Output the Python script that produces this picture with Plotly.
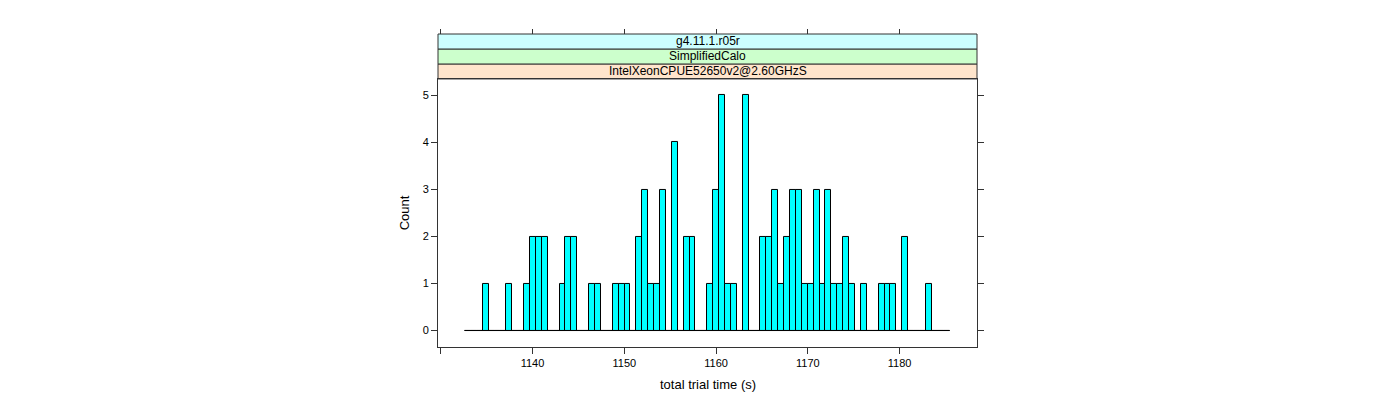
import numpy as np
import plotly.graph_objects as go

# ---- data ----
bin_start = 1132.64   # left edge of first bin (s)
bin_width = 0.6439    # bin width (s)
counts = [0, 0, 0, 1, 0, 0, 0, 1, 0, 0,
          1, 2, 2, 2, 0, 0, 1, 2, 2, 0,
          0, 1, 1, 0, 0, 1, 1, 1, 0, 2,
          3, 1, 1, 3, 0, 4, 0, 2, 2, 0,
          0, 1, 3, 5, 1, 1, 0, 5, 0, 0,
          2, 2, 3, 1, 2, 3, 3, 1, 1, 3,
          1, 3, 1, 1, 2, 1, 0, 1, 0, 0,
          1, 1, 1, 0, 2, 0, 0, 0, 1, 0,
          0, 0]
x_ticks = [1130, 1140, 1150, 1160, 1170, 1180]
x_tick_labels = ["", "1140", "1150", "1160", "1170", "1180"]
y_ticks = [0, 1, 2, 3, 4, 5]
strip_labels = ["IntelXeonCPUE52650v2@2.60GHzS", "SimplifiedCalo", "g4.11.1.r05r"]
strip_colors = ["#ffe5cc", "#ccffcc", "#ccffff"]
x_title = "total trial time (s)"
y_title = "Count"

edges = bin_start + bin_width * np.arange(len(counts) + 1)
centers = edges[:-1] + bin_width / 2

# ---- layout geometry (pixels) ----
W, H = 1400, 400
L, R = 437.7, 977.5          # panel left/right
T_STRIP, T_PANEL, B = 34.0, 79.0, 347.3
paper_h = B - T_STRIP
panel_top = (B - T_PANEL) / paper_h
strip_h = 15.0 / paper_h

x_range = [1129.70, 1188.43]
y_range = [-0.35, 5.35]

FONT = "Liberation Sans, Arial, sans-serif"
AX = "#333333"

fig = go.Figure()
fig.add_trace(go.Scatter(
    x=[edges[0], edges[-1]], y=[0, 0], mode="lines",
    line=dict(color="black", width=1), hoverinfo="skip", showlegend=False))
fig.add_trace(go.Bar(
    x=centers, y=counts, width=bin_width,
    marker=dict(color="#00FFFF", line=dict(color="black", width=1)),
    showlegend=False))
# dummy trace so the top axis is drawn
fig.add_trace(go.Scatter(x=[x_ticks[0]], y=[0], xaxis="x2", mode="markers",
                         marker=dict(opacity=0), hoverinfo="skip", showlegend=False))

shapes = []
annotations = []
for i, (lab, col) in enumerate(zip(strip_labels, strip_colors)):
    y0 = panel_top + i * strip_h
    y1 = y0 + strip_h
    shapes.append(dict(type="rect", xref="paper", yref="paper", x0=0, x1=1, y0=y0, y1=y1,
                       fillcolor=col, line=dict(color=AX, width=1), layer="below"))
    annotations.append(dict(text=lab, xref="paper", yref="paper", x=0.5, y=(y0 + y1) / 2,
                            showarrow=False, font=dict(family=FONT, size=12, color="black"),
                            xanchor="center", yanchor="middle"))

def px_x(p):
    return (p - L) / (R - L)

def px_y(p):
    return (B - p) / paper_h

annotations.append(dict(text=x_title, xref="paper", yref="paper", x=px_x((L + R) / 2), y=px_y(385),
                        showarrow=False, font=dict(family=FONT, size=13, color="black"),
                        xanchor="center", yanchor="middle"))
annotations.append(dict(text=y_title, xref="paper", yref="paper", x=px_x(405), y=px_y((T_PANEL + B) / 2),
                        showarrow=False, textangle=-90, font=dict(family=FONT, size=13, color="black"),
                        xanchor="center", yanchor="middle"))

fig.update_layout(
    width=W, height=H,
    margin=dict(l=L, r=W - R, t=T_STRIP, b=H - B, pad=0),
    paper_bgcolor="white", plot_bgcolor="white",
    bargap=0,
    font=dict(family=FONT, size=11, color="black"),
    xaxis=dict(range=x_range, tickvals=x_ticks, ticktext=x_tick_labels,
               ticks="outside", ticklen=6, tickcolor=AX, tickwidth=1,
               showline=True, linecolor=AX, linewidth=1, mirror=True,
               showgrid=False, zeroline=False, anchor="y",
               tickfont=dict(family=FONT, size=11, color="black")),
    xaxis2=dict(range=x_range, tickvals=x_ticks, overlaying="x", anchor="free", position=1,
                side="top", ticks="outside", ticklen=5, tickcolor=AX, tickwidth=1,
                showticklabels=False, showline=False, showgrid=False, zeroline=False),
    yaxis=dict(range=y_range, domain=[0, panel_top], tickvals=y_ticks,
               ticks="outside", ticklen=6, tickcolor=AX, tickwidth=1,
               showline=True, linecolor=AX, linewidth=1, mirror="ticks",
               showgrid=False, zeroline=False,
               tickfont=dict(family=FONT, size=11, color="black")),
    shapes=shapes, annotations=annotations,
)

fig.write_html("out.html")
